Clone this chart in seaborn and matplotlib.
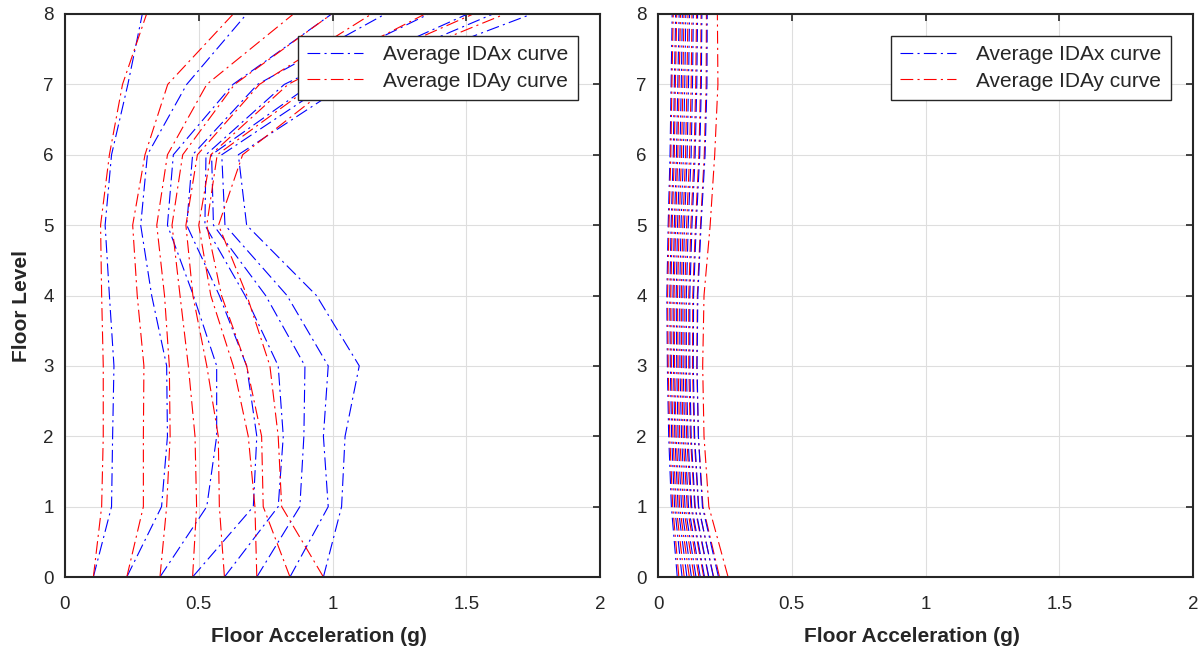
import matplotlib
matplotlib.use("Agg")
import matplotlib.pyplot as plt
import seaborn as sns

floors = [0, 1, 2, 3, 4, 5, 6, 7, 8]

# left panel: average IDA curves, one per intensity level (floor 0 .. 8)
left_idax = [
    [0.106, 0.174, 0.178, 0.183, 0.166, 0.150, 0.174, 0.235, 0.289],
    [0.231, 0.361, 0.383, 0.380, 0.324, 0.283, 0.308, 0.455, 0.679],
    [0.355, 0.530, 0.567, 0.567, 0.480, 0.383, 0.405, 0.628, 0.997],
    [0.477, 0.704, 0.717, 0.679, 0.577, 0.455, 0.477, 0.720, 1.197],
    [0.596, 0.797, 0.816, 0.797, 0.673, 0.523, 0.527, 0.820, 1.360],
    [0.717, 0.878, 0.893, 0.897, 0.750, 0.555, 0.548, 0.920, 1.505],
    [0.841, 0.984, 0.966, 0.984, 0.830, 0.598, 0.586, 0.980, 1.600],
    [0.966, 1.034, 1.047, 1.100, 0.940, 0.679, 0.648, 1.050, 1.745],
]
left_iday = [
    [0.106, 0.137, 0.143, 0.143, 0.137, 0.133, 0.166, 0.215, 0.305],
    [0.231, 0.293, 0.293, 0.295, 0.270, 0.253, 0.299, 0.384, 0.629],
    [0.355, 0.380, 0.393, 0.390, 0.372, 0.343, 0.383, 0.530, 0.854],
    [0.477, 0.492, 0.486, 0.461, 0.430, 0.400, 0.440, 0.634, 0.997],
    [0.596, 0.577, 0.573, 0.530, 0.478, 0.452, 0.495, 0.727, 1.146],
    [0.717, 0.710, 0.685, 0.629, 0.545, 0.500, 0.545, 0.834, 1.346],
    [0.841, 0.741, 0.735, 0.679, 0.585, 0.530, 0.569, 0.930, 1.526],
    [0.966, 0.810, 0.797, 0.766, 0.680, 0.574, 0.664, 1.000, 1.645],
]

# right panel
right_idax = [
    [0.072, 0.050, 0.040, 0.035, 0.033, 0.038, 0.045, 0.049, 0.053],
    [0.090, 0.062, 0.051, 0.046, 0.044, 0.049, 0.057, 0.061, 0.066],
    [0.108, 0.075, 0.063, 0.058, 0.056, 0.061, 0.069, 0.074, 0.079],
    [0.125, 0.088, 0.075, 0.070, 0.068, 0.073, 0.082, 0.087, 0.091],
    [0.142, 0.101, 0.088, 0.082, 0.081, 0.086, 0.095, 0.100, 0.104],
    [0.158, 0.114, 0.100, 0.094, 0.093, 0.099, 0.109, 0.114, 0.118],
    [0.174, 0.126, 0.112, 0.106, 0.106, 0.113, 0.124, 0.129, 0.132],
    [0.190, 0.139, 0.124, 0.119, 0.119, 0.127, 0.139, 0.145, 0.148],
    [0.207, 0.152, 0.137, 0.132, 0.133, 0.143, 0.156, 0.162, 0.164],
    [0.226, 0.166, 0.151, 0.146, 0.149, 0.161, 0.176, 0.183, 0.184],
]
right_iday = [
    [0.078, 0.055, 0.044, 0.038, 0.036, 0.041, 0.048, 0.052, 0.057],
    [0.098, 0.068, 0.056, 0.050, 0.048, 0.053, 0.061, 0.065, 0.070],
    [0.117, 0.081, 0.068, 0.062, 0.060, 0.066, 0.074, 0.079, 0.084],
    [0.135, 0.095, 0.081, 0.075, 0.073, 0.079, 0.088, 0.093, 0.097],
    [0.153, 0.109, 0.094, 0.088, 0.087, 0.093, 0.103, 0.108, 0.112],
    [0.171, 0.123, 0.107, 0.101, 0.100, 0.107, 0.118, 0.124, 0.127],
    [0.189, 0.137, 0.121, 0.115, 0.115, 0.123, 0.135, 0.141, 0.144],
    [0.208, 0.151, 0.135, 0.129, 0.130, 0.140, 0.153, 0.159, 0.161],
    [0.230, 0.168, 0.151, 0.145, 0.147, 0.159, 0.173, 0.180, 0.181],
    [0.262, 0.190, 0.172, 0.167, 0.172, 0.195, 0.212, 0.224, 0.222],
]

xticks = [0, 0.5, 1, 1.5, 2]
xtick_labels = ["0", "0.5", "1", "1.5", "2"]
labels = ["Average IDAx curve", "Average IDAy curve"]

sns.set_style("white")
plt.rcParams["font.family"] = ["Liberation Sans", "DejaVu Sans"]

DARK = "#262626"
DASH = (11.5, 3.8, 1.9, 3.8)

fig = plt.figure(figsize=(12.03, 6.5), dpi=100)
ax_l = fig.add_axes([65 / 1203, 73 / 650, 535 / 1203, 563 / 650])
ax_r = fig.add_axes([658 / 1203, 73 / 650, 535 / 1203, 563 / 650])


def draw_panel(ax, idax, iday, ylabel):
    for bx, ry in zip(idax, iday):
        sns.lineplot(x=bx, y=floors, sort=False, estimator=None, ax=ax,
                     color="#0000ff", lw=0.8, dashes=False)
        ax.lines[-1].set_dashes(DASH)
        sns.lineplot(x=ry, y=floors, sort=False, estimator=None, ax=ax,
                     color="#ff0000", lw=0.8, dashes=False)
        ax.lines[-1].set_dashes(DASH)
    ax.set_xlim(0, 2)
    ax.set_ylim(0, 8)
    ax.set_xticks(xticks)
    ax.set_xticklabels(xtick_labels)
    ax.set_yticks(floors)
    ax.grid(True, color="#dedede", lw=0.8)
    ax.set_axisbelow(True)
    ax.tick_params(direction="in", length=5, width=1.2, colors=DARK,
                   labelsize=13.5, top=True, right=True)
    ax.tick_params(axis="x", pad=14)
    ax.tick_params(axis="y", pad=8)
    for sp in ax.spines.values():
        sp.set_color(DARK)
        sp.set_linewidth(1.5)
    ax.set_xlabel("Floor Acceleration (g)", fontsize=15, fontweight="bold",
                  color=DARK)
    ax.xaxis.set_label_coords(0.475, -0.088)
    if ylabel:
        ax.set_ylabel("Floor Level", fontsize=15, fontweight="bold",
                      color=DARK)
        ax.yaxis.set_label_coords(-0.063, 0.481)
    else:
        ax.set_ylabel("")
    leg = ax.legend(ax.lines[:2], labels, loc="upper right",
                    bbox_to_anchor=(0.959, 0.961), borderaxespad=0,
                    fontsize=15, handlelength=2.65, handletextpad=1.0,
                    fancybox=False, framealpha=1, edgecolor=DARK,
                    borderpad=0.45, labelspacing=0.35)
    leg.get_frame().set_linewidth(1.0)


draw_panel(ax_l, left_idax, left_iday, True)
draw_panel(ax_r, right_idax, right_iday, False)

fig.savefig("out.png", dpi=100)
